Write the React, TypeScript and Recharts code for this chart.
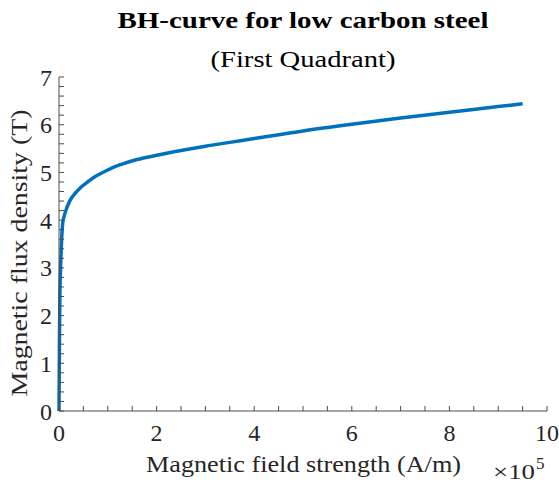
import { LineChart, Line, XAxis, YAxis, Customized } from "recharts";

// magnetic field strength, in units of 10^5 A/m
const fieldH = [
  0, 0.004, 0.008, 0.012, 0.018, 0.025, 0.035, 0.05, 0.076, 0.11, 0.157, 0.23,
  0.33, 0.45, 0.6, 0.75, 0.94, 1.1, 1.28, 1.6, 2.0, 2.5, 3.0, 3.5, 4.0, 5.0,
  6.0, 7.0, 8.0, 9.0, 9.5,
];
// magnetic flux density (T)
const fluxB = [
  0, 0.6, 1.2, 1.8, 2.4, 2.75, 3.1, 3.5, 3.94, 4.1, 4.25, 4.42, 4.56, 4.69,
  4.81, 4.92, 5.02, 5.1, 5.17, 5.27, 5.36, 5.46, 5.55, 5.63, 5.71, 5.87, 6.01,
  6.14, 6.26, 6.38, 6.44,
];

const xTicks = [
  0, 0.5, 1, 1.5, 2, 2.5, 3, 3.5, 4, 4.5, 5, 5.5, 6, 6.5, 7, 7.5, 8, 8.5, 9,
  9.5, 10,
];
const xLabels = [0, 2, 4, 6, 8, 10];
const yTicks = [
  0, 0.2, 0.4, 0.6, 0.8, 1, 1.2, 1.4, 1.6, 1.8, 2, 2.2, 2.4, 2.6, 2.8, 3, 3.2,
  3.4, 3.6, 3.8, 4, 4.2, 4.4, 4.6, 4.8, 5, 5.2, 5.4, 5.6, 5.8, 6, 6.2, 6.4,
  6.6, 6.8, 7,
];
const yLabels = [0, 1, 2, 3, 4, 5, 6, 7];

const data = fieldH.map((h, i) => ({ h, b: fluxB[i] }));

const FONT = "Liberation Serif";
const AXIS = "#262626";
const BOX = "#4d4d4d";

const Texts = () => (
  <g fontFamily={FONT} fill="#000">
    <text
      x={303}
      y={28}
      textAnchor="middle"
      fontSize={24}
      fontWeight="bold"
      textLength={371}
      lengthAdjust="spacingAndGlyphs"
    >
      BH-curve for low carbon steel
    </text>
    <text
      x={303}
      y={67}
      textAnchor="middle"
      fontSize={24}
      textLength={185}
      lengthAdjust="spacingAndGlyphs"
    >
      (First Quadrant)
    </text>
    <text
      x={303.5}
      y={472}
      textAnchor="middle"
      fontSize={24}
      fill={AXIS}
      textLength={315}
      lengthAdjust="spacingAndGlyphs"
    >
      Magnetic field strength (A/m)
    </text>
    <text
      transform="translate(27,253) rotate(-90)"
      textAnchor="middle"
      fontSize={24}
      fill={AXIS}
      textLength={287}
      lengthAdjust="spacingAndGlyphs"
    >
      Magnetic flux density (T)
    </text>
    <text
      x={493}
      y={479}
      fontSize={22}
      fill={AXIS}
      textLength={42}
      lengthAdjust="spacingAndGlyphs"
    >
      ×10
    </text>
    <text x={536} y={469} fontSize={17} fill={AXIS}>
      5
    </text>
  </g>
);

const App = () => {
  const tickStyle = { fill: AXIS, fontSize: 24, fontFamily: FONT };
  return (
    <div style={{ position: "absolute", left: 0, top: 0, fontFamily: FONT }}>
      <LineChart
        width={559}
        height={484}
        data={data}
        margin={{ top: 77, right: 12, bottom: 0, left: 0 }}
      >
        <XAxis
          xAxisId="b"
          dataKey="h"
          type="number"
          domain={[0, 10]}
          ticks={xTicks}
          interval={0}
          tickFormatter={(v: number) => (xLabels.includes(v) ? String(v) : "")}
          tick={tickStyle}
          tickSize={-5}
          tickMargin={18}
          height={73}
          stroke={BOX}
        />
        <XAxis
          xAxisId="t"
          orientation="top"
          dataKey="h"
          type="number"
          domain={[0, 10]}
          ticks={xTicks}
          interval={0}
          tickFormatter={() => ""}
          tickSize={-5}
          height={0}
          stroke={BOX}
        />
        <YAxis
          yAxisId="l"
          type="number"
          domain={[0, 7]}
          ticks={yTicks}
          interval={0}
          tickFormatter={(v: number) => (yLabels.includes(v) ? String(v) : "")}
          tick={tickStyle}
          tickSize={-5}
          tickMargin={12}
          width={59}
          stroke={BOX}
        />
        <YAxis
          yAxisId="r"
          orientation="right"
          type="number"
          domain={[0, 7]}
          ticks={yTicks}
          interval={0}
          tickFormatter={() => ""}
          tickSize={-5}
          width={0}
          stroke={BOX}
        />
        <Line
          xAxisId="b"
          yAxisId="l"
          type="monotone"
          dataKey="b"
          stroke="#0072BD"
          strokeWidth={3.5}
          dot={false}
          isAnimationActive={false}
        />
        <Customized component={Texts} />
      </LineChart>
    </div>
  );
};

export default App;
